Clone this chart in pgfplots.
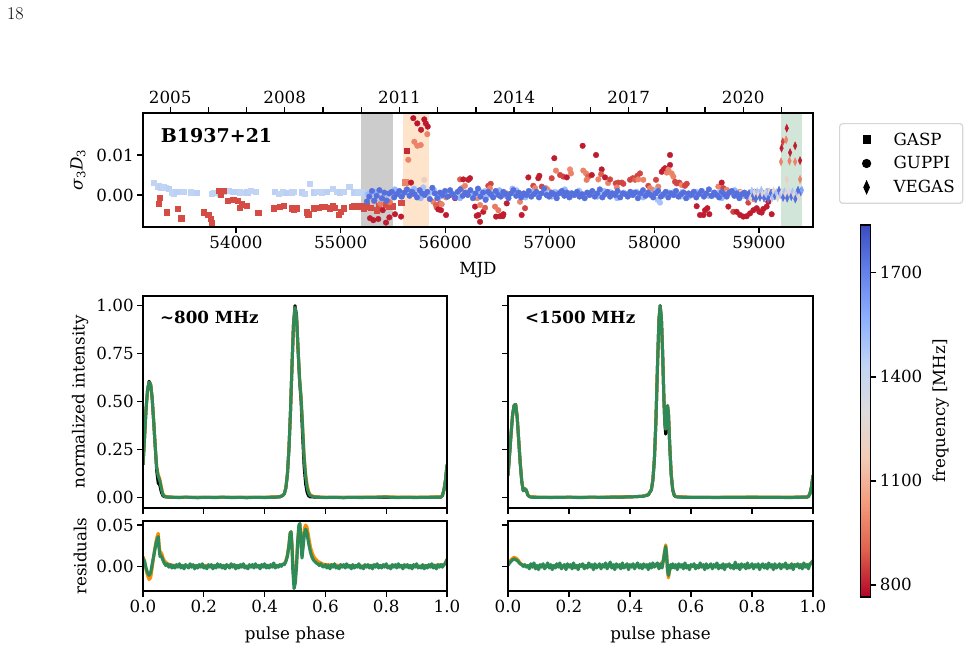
\documentclass[border=0pt]{standalone}
\usepackage{fontspec}
\usepackage{pgfplots}
\pgfplotsset{compat=1.18}
\usetikzlibrary{calc}
\newfontfamily\dejavu{DejaVu Serif}
\newcommand\mplfont{\dejavu\fontsize{16.7}{20}\selectfont}
\newcommand\mplbold{\dejavu\bfseries\fontsize{16.7}{20}\selectfont}
\definecolor{bandgray}{RGB}{204,204,204}
\definecolor{bandorange}{RGB}{254,228,202}
\definecolor{bandgreen}{RGB}{210,229,217}
\definecolor{seagreen}{RGB}{46,139,87}
\definecolor{darkorange}{RGB}{255,140,0}
\definecolor{legendedge}{RGB}{214,214,214}
\pgfkeys{/pgf/number format/.cd, 1000 sep={}, assume math mode=true}
\pgfplotsset{
  colormap={coolwarmr}{rgb255(0cm)=(180,4,38); rgb255(1cm)=(222,96,77); rgb255(2cm)=(244,154,123); rgb255(3cm)=(242,203,183); rgb255(4cm)=(221,220,220); rgb255(5cm)=(192,212,245); rgb255(6cm)=(141,176,254); rgb255(7cm)=(98,130,234); rgb255(8cm)=(59,76,192)},
  mpl/.style={
    scale only axis, axis on top,
    font=\mplfont,
    axis line style={line width=1.3pt},
    tick style={black, line width=1.3pt},
    tick align=outside, major tick length=5.8pt,
    xtick pos=left, ytick pos=left,
    scaled ticks=false,
  },
  sc/.style={scatter, only marks, point meta=explicit, forget plot,
    scatter/use mapped color={draw=mapped color, fill=mapped color}},
  gasp/.style={sc, mark=square*, mark size=2.6pt},
  guppi/.style={sc, mark=*, mark size=2.8pt},
  vegas/.style={sc, mark=diamond*, mark size=4pt, mark options={xscale=0.6}},
  prof/.style={line width=3pt, line join=round},
  resid/.style={line width=3.2pt, line join=round},
  prof2/.style={
    mpl, width=304pt, height=212pt, xmin=0, xmax=1, ymin=-0.055, ymax=1.05,
    xtick={0,0.2,0.4,0.6,0.8,1}, xticklabels={},
    ytick={0,0.25,0.5,0.75,1},
    yticklabel style={/pgf/number format/.cd, fixed, fixed zerofill, precision=2},
  },
  res2/.style={
    mpl, width=304pt, height=70pt, xmin=0, xmax=1, ymin=-0.030, ymax=0.055,
    xtick={0,0.2,0.4,0.6,0.8,1}, ytick={0,0.05},
    xticklabel style={/pgf/number format/.cd, fixed, fixed zerofill, precision=1},
    yticklabel style={/pgf/number format/.cd, fixed, fixed zerofill, precision=2},
    xlabel={pulse phase},
    xlabel style={at={(axis description cs:0.5,-0.62)}, anchor=center},
  },
}

\begin{document}
\begin{tikzpicture}[x=1pt,y=1pt]
\useasboundingbox (0,0) rectangle (971,-650);
\node[anchor=north west, inner sep=0pt, font=\fontsize{18}{20}\selectfont] at (7,-7) {18};

% ---------------- timing residual panel ----------------
\begin{axis}[mpl, at={(143pt,-227pt)}, anchor=south west, width=670pt, height=114pt,
  xmin=53111, xmax=59516, ymin=-0.008, ymax=0.0205,
  xtick={54000,55000,56000,57000,58000,59000}, ytick={0,0.01},
  yticklabel style={/pgf/number format/.cd, fixed, fixed zerofill, precision=2},
  xlabel={MJD},
  xlabel style={at={(axis description cs:0.5,-0.377)}, anchor=center},
  ylabel={{\itshape σ\textsubscript{\upshape 3}D\textsubscript{\upshape 3}}},
  ylabel style={at={(axis description cs:-0.097,0.5)}, anchor=center},
  colormap name=coolwarmr, point meta min=765, point meta max=1838,
  colorbar,
  colorbar style={
    at={($(parent axis.south east)+(39pt,-370pt)$)}, anchor=south west,
    width=10pt, height=372pt, scale only axis,
    font=\mplfont,
    axis line style={line width=1.3pt},
    tick style={black, line width=1.3pt},
    tick align=outside, major tick length=5.8pt,
    ytick={800,1100,1400,1700}, yticklabel pos=right, ytick pos=right,
    xtick=\empty,
    ylabel={frequency [MHz]},
    ylabel style={at={(axis description cs:8.0,0.5)}, anchor=center},
  },
  legend cell align=left,
  legend style={at={(1.0388,0.912)}, anchor=north west, draw=legendedge,
    line width=1.2pt, rounded corners=3pt, fill=white, font=\mplfont,
    inner xsep=6pt, inner ysep=7pt, nodes={inner sep=2pt}, row sep=6pt},
  legend image code/.code={\path[draw=none, fill=none] (0pt,-5pt) rectangle (46pt,5pt);
    \draw[#1] plot coordinates {(21pt,0pt)};},
]
% observing campaigns
\addplot[fill=bandgray, draw=none, forget plot] coordinates {(55195,-0.01) (55501,-0.01) (55501,0.03) (55195,0.03)} -- cycle;
\addplot[fill=bandorange, draw=none, forget plot] coordinates {(55597,-0.01) (55845,-0.01) (55845,0.03) (55597,0.03)} -- cycle;
\addplot[fill=bandgreen, draw=none, forget plot] coordinates {(59210,-0.01) (59412,-0.01) (59412,0.03) (59210,0.03)} -- cycle;

% GASP, L band
\addplot[gasp] table[header=false, x index=0, y index=1, meta index=2, row sep=\\] {
53210 0.0031 1430\\ 53257 0.0022 1430\\ 53280 0.0019 1450\\ 53305 0.0021 1430\\ 53331 0.0018 1430\\
53353 0.0016 1450\\ 53385 0.0007 1430\\ 53401 0.0003 1430\\ 53433 0.0009 1450\\ 53496 0.0009 1430\\
53570 0.0007 1430\\ 53624 0.0006 1450\\ 53768 0.0003 1430\\ 53790 0.0005 1430\\ 53841 0.0003 1450\\
53879 0.0009 1430\\ 53927 0.0011 1430\\ 53974 0.0009 1450\\ 54032 0.0007 1430\\ 54069 0.0005 1430\\
54108 0.0007 1450\\ 54140 0.0010 1430\\ 54185 0.0009 1430\\ 54373 0.0009 1450\\ 54405 0.0003 1430\\
54447 0.0007 1430\\ 54485 0.0005 1450\\ 54533 0.0007 1430\\ 54555 0.0009 1430\\ 54628 0.0007 1450\\
54660 0.0003 1430\\ 54708 0.0028 1430\\ 54739 0.0007 1450\\ 54772 0.0009 1430\\ 54819 0.0007 1430\\
54867 0.0009 1450\\ 54925 0.0015 1430\\ 54963 0.0009 1430\\ 54994 0.0007 1450\\ 55026 0.0009 1430\\
55083 0.0020 1430\\ 55122 0.0007 1450\\ 55169 0.0007 1430\\ 55205 0.0009 1430\\ 55232 0.0004 1450\\
};
% GASP, 800 MHz
\addplot[gasp] table[header=false, x index=0, y index=1, meta index=2, row sep=\\] {
53274 -0.0006 870\\ 53264 -0.0022 870\\ 53338 -0.0043 870\\ 53439 -0.0034 870\\ 53477 -0.0058 870\\
53688 -0.0043 870\\ 53735 -0.0050 870\\ 53758 -0.0060 870\\ 53764 -0.0069 870\\ 53835 0.0010 870\\
53854 0.0002 870\\ 53885 0.0010 870\\ 53917 -0.0015 870\\ 53974 -0.0011 870\\ 54013 -0.0014 870\\
54032 -0.0031 870\\ 54057 -0.0023 870\\ 54102 -0.0026 870\\ 54213 -0.0044 870\\ 54357 -0.0033 870\\
54414 -0.0030 870\\ 54459 -0.0027 870\\ 54533 -0.0033 870\\ 54553 -0.0036 870\\ 54578 -0.0033 870\\
54676 -0.0043 870\\ 54691 -0.0048 870\\ 54739 -0.0033 870\\ 54787 -0.0032 870\\ 54819 -0.0029 870\\
54851 -0.0029 870\\ 54899 -0.0033 870\\ 54925 -0.0026 870\\ 54947 -0.0031 870\\ 54978 -0.0050 870\\
55001 -0.0042 870\\ 55033 -0.0033 870\\ 55106 -0.0029 870\\ 55122 -0.0028 870\\ 55169 -0.0028 870\\
55192 -0.0028 870\\ 55217 -0.0033 870\\ 55250 -0.0028 870\\ 55291 -0.0032 870\\ 55345 -0.0038 870\\
55364 -0.0028 870\\ 55434 -0.0025 870\\ 55460 -0.0029 870\\ 55498 -0.0028 870\\ 55580 -0.0019 870\\
55617 0.0032 980\\ 55632 0.0110 820\\
};
% GUPPI, 820 MHz
\addplot[guppi] table[header=false, x index=0, y index=1, meta index=2, row sep=\\] {
55281 -0.0058 800\\ 55313 -0.0063 800\\ 55360 -0.0060 800\\ 55403 -0.0038 800\\ 55434 -0.0069 800\\
55466 -0.0056 800\\ 55520 -0.0048 800\\ 55578 -0.0054 800\\ 55320 -0.0015 960\\ 55380 -0.0022 960\\
55420 -0.0012 900\\ 55470 -0.0018 960\\
55695 0.0192 790\\ 55733 0.0179 790\\ 55769 0.0163 800\\ 55800 0.0189 790\\ 55814 0.0179 800\\
55833 0.0171 790\\ 55829 0.0152 980\\ 55705 0.0133 980\\ 55733 0.0123 980\\ 55766 0.0125 980\\
55647 0.0088 980\\ 55673 0.0031 800\\ 55800 0.0038 1200\\ 55880 0.0013 800\\ 55918 -0.0031 900\\
55960 -0.0038 800\\ 56008 -0.0050 800\\ 55950 -0.0021 900\\
55886 -0.0017 980\\ 55912 -0.0025 900\\ 55934 -0.0036 800\\ 55967 -0.0023 980\\ 56008 -0.0006 980\\
56046 0.0000 800\\ 56094 -0.0008 800\\ 56142 0.0039 900\\ 56173 0.0039 800\\ 56221 0.0038 800\\
56237 0.0042 800\\ 56189 0.0023 980\\ 56158 0.0017 980\\ 56285 -0.0029 800\\ 56317 -0.0050 800\\
56301 -0.0052 800\\ 56333 -0.0067 800\\ 56364 -0.0042 800\\ 56381 -0.0032 900\\ 56333 -0.0025 980\\
56307 -0.0008 1000\\ 56412 0.0023 860\\ 56435 0.0028 860\\ 56428 0.0017 980\\ 56476 -0.0029 960\\
56508 -0.0038 960\\ 56486 -0.0054 800\\ 56524 -0.0053 800\\ 56550 -0.0053 800\\ 56556 -0.0048 800\\
56588 -0.0021 800\\ 56588 0.0004 980\\ 56731 -0.0050 800\\ 56763 -0.0033 860\\ 56715 -0.0017 980\\
56795 0.0044 800\\ 56842 0.0023 860\\ 56859 0.0017 980\\ 56890 0.0042 800\\ 56900 0.0048 800\\
56923 0.0021 860\\ 56964 0.0017 980\\ 56980 0.0013 980\\ 57018 0.0042 860\\ 57043 0.0092 800\\
57059 0.0061 980\\ 57098 0.0050 860\\ 57129 0.0046 860\\ 57162 0.0044 800\\ 57193 0.0064 1000\\
57203 0.0054 980\\ 57314 0.0123 800\\ 57320 0.0061 980\\ 57346 0.0054 980\\ 57368 0.0046 900\\
57352 0.0038 960\\ 57401 0.0050 800\\ 57442 0.0100 800\\ 57464 0.0039 980\\ 57496 0.0064 800\\
57490 0.0052 900\\ 57528 0.0044 800\\ 57557 0.0030 980\\ 57576 0.0039 860\\ 57630 0.0029 860\\
57655 0.0031 860\\ 57688 0.0031 860\\ 57703 0.0028 860\\ 57640 0.0019 980\\ 57767 0.0038 860\\
57793 0.0042 860\\ 57815 0.0038 900\\ 57837 0.0048 860\\ 57862 0.0054 860\\ 57846 0.0039 980\\
57894 0.0038 980\\ 57942 0.0023 860\\ 57958 0.0017 980\\ 57984 0.0013 980\\ 58015 0.0038 860\\
58037 0.0021 980\\ 58070 0.0058 800\\ 58086 0.0063 800\\ 58118 0.0056 980\\ 58102 0.0067 800\\
58149 0.0100 800\\ 58149 0.0075 800\\ 58133 0.0063 980\\ 58165 0.0054 980\\ 58181 0.0046 980\\
58197 0.0033 860\\ 58213 0.0029 860\\ 58238 0.0031 860\\ 58261 0.0025 980\\ 58292 0.0023 860\\
58309 0.0028 860\\ 58404 -0.0028 800\\ 58436 -0.0050 800\\ 58468 -0.0050 800\\ 58484 -0.0038 800\\
58506 -0.0033 800\\ 58525 -0.0048 800\\ 58611 0.0021 980\\ 58643 0.0031 800\\ 58659 0.0017 860\\
58691 0.0013 980\\ 58716 0.0008 980\\ 58754 0.0004 980\\ 58786 0.0000 980\\ 58819 0.0008 980\\
58707 -0.0029 800\\ 58754 -0.0042 860\\ 58786 -0.0042 800\\ 58819 -0.0050 800\\ 58850 -0.0054 800\\
58882 -0.0053 800\\ 58914 -0.0046 800\\ 58946 -0.0038 800\\ 58978 -0.0033 800\\ 58898 -0.0019 860\\
58955 -0.0011 980\\ 59003 -0.0042 800\\ 59025 -0.0044 800\\ 59041 -0.0035 800\\ 59073 -0.0029 800\\
59089 -0.0017 800\\ 59121 -0.0048 800\\
};
% GUPPI, 1500 MHz
\addplot[guppi] table[header=false, x index=0, y index=1, meta index=2, row sep=\\] {
55290 0.0003 1500\\ 55360 0.0008 1500\\ 55430 0.0001 1500\\ 55505 0.0005 1500\\ 55570 -0.0001 1500\\
55660 0.0010 1500\\ 55745 0.0003 1500\\ 55790 0.0019 1500\\ 55860 0.0006 1500\\ 55930 0.0000 1500\\
56000 0.0009 1500\\ 56070 0.0004 1500\\ 56150 -0.0002 1500\\ 56230 0.0007 1500\\ 56300 0.0002 1500\\
56380 0.0010 1500\\ 56450 -0.0004 1500\\ 56530 0.0005 1500\\ 56610 0.0001 1500\\ 56680 0.0012 1500\\
56760 -0.0003 1500\\ 56830 0.0006 1500\\ 56910 0.0003 1500\\ 56980 -0.0001 1500\\ 57050 0.0008 1500\\
57130 0.0002 1500\\ 57200 0.0005 1500\\ 57280 0.0011 1500\\ 57350 -0.0002 1500\\ 57430 0.0004 1500\\
57500 0.0001 1500\\ 57580 0.0007 1500\\ 57650 -0.0003 1500\\ 57730 0.0003 1500\\ 57800 0.0006 1500\\
57880 0.0000 1500\\ 57950 0.0004 1500\\ 58030 -0.0012 1500\\ 58054 -0.0019 1500\\ 58100 0.0002 1500\\
58180 0.0007 1500\\ 58250 -0.0004 1500\\ 58320 0.0003 1500\\ 58400 0.0008 1500\\ 58470 0.0001 1500\\
58550 -0.0003 1500\\ 58620 0.0006 1500\\ 58700 0.0002 1500\\ 58770 0.0009 1500\\ 58850 -0.0002 1500\\
58920 0.0004 1500\\ 59000 0.0007 1500\\ 59070 -0.0001 1500\\ 59140 0.0003 1500\\
56150 0.0004 1250\\ 57000 0.0005 1250\\ 57300 0.0003 1250\\ 58700 0.0005 1250\\ 58760 0.0002 1250\\
58830 0.0006 1250\\ 58880 -0.0003 1250\\ 58960 0.0004 1250\\ 59020 0.0001 1250\\ 59100 0.0003 1250\\
};
% GUPPI, upper band
\addplot[guppi] table[header=false, x index=0, y index=1, meta index=2, row sep=\\] {
55262 0.0002 1540\\ 55330 0.0008 1540\\ 55392 -0.0010 1540\\ 55455 0.0002 1540\\ 55518 0.0014 1540\\
55580 -0.0004 1540\\ 55640 0.0006 1540\\ 55702 0.0016 1540\\ 55765 -0.0008 1540\\ 55830 0.0004 1540\\
55893 0.0012 1540\\ 55955 -0.0004 1540\\ 56018 0.0008 1540\\ 56080 0.0000 1540\\ 56142 -0.0008 1540\\
56205 0.0006 1540\\ 56268 0.0002 1540\\ 56330 0.0010 1540\\ 56393 -0.0006 1540\\ 56456 0.0004 1540\\
56518 0.0012 1540\\ 56581 -0.0002 1540\\ 56643 0.0016 1540\\ 56706 0.0004 1540\\ 56768 -0.0006 1540\\
56831 0.0008 1540\\ 56893 0.0002 1540\\ 56956 0.0010 1540\\ 57018 -0.0004 1540\\ 57081 0.0006 1540\\
57143 0.0014 1540\\ 57206 -0.0002 1540\\ 57268 0.0008 1540\\ 57331 0.0000 1540\\ 57393 0.0006 1540\\
57456 -0.0004 1540\\ 57518 0.0010 1540\\ 57581 0.0002 1540\\ 57643 -0.0008 1540\\ 57706 0.0006 1540\\
57768 0.0000 1540\\ 57831 0.0008 1540\\ 57893 -0.0006 1540\\ 57956 0.0004 1540\\ 58018 0.0012 1540\\
58081 -0.0002 1540\\ 58143 0.0006 1540\\ 58206 0.0000 1540\\ 58268 0.0008 1540\\ 58331 -0.0004 1540\\
58393 0.0004 1540\\ 58456 0.0010 1540\\ 58518 -0.0002 1540\\ 58581 0.0006 1540\\ 58643 -0.0008 1540\\
58706 0.0004 1540\\ 58768 0.0012 1540\\ 58831 0.0000 1540\\ 58893 -0.0006 1540\\ 58956 0.0008 1540\\
59018 0.0002 1540\\ 59081 0.0010 1540\\ 59143 -0.0004 1540\\
55252 -0.0016 1750\\ 55275 -0.0004 1750\\ 55300 0.0010 1750\\ 55322 -0.0014 1750\\ 55345 -0.0002 1750\\
55371 0.0012 1750\\ 55396 -0.0008 1750\\ 55418 0.0006 1750\\ 55441 -0.0014 1750\\ 55465 0.0004 1750\\
55490 0.0008 1750\\ 55512 -0.0006 1750\\ 55537 0.0002 1750\\ 55561 0.0010 1750\\ 55585 -0.0004 1750\\
55610 0.0006 1750\\ 55634 0.0014 1750\\ 55659 -0.0002 1750\\ 55683 0.0008 1750\\ 55706 0.0002 1750\\
55731 -0.0006 1750\\ 55756 0.0012 1750\\ 55780 0.0004 1750\\ 55803 0.0000 1750\\ 55828 0.0008 1750\\
55853 -0.0010 1750\\ 55877 0.0018 1750\\ 55900 0.0004 1750\\ 55925 -0.0008 1750\\ 55950 0.0006 1750\\
55973 0.0000 1750\\ 55998 0.0010 1750\\ 56022 -0.0004 1750\\ 56047 0.0012 1750\\ 56070 0.0002 1750\\
56095 -0.0006 1750\\ 56119 0.0008 1750\\ 56144 0.0014 1750\\ 56167 -0.0002 1750\\ 56192 0.0006 1750\\
56216 0.0000 1750\\ 56241 0.0012 1750\\ 56265 -0.0008 1750\\ 56289 0.0004 1750\\ 56313 0.0016 1750\\
56338 -0.0004 1750\\ 56362 0.0006 1750\\ 56386 -0.0012 1750\\ 56410 0.0008 1750\\ 56435 0.0002 1750\\
56459 -0.0006 1750\\ 56483 0.0010 1750\\ 56508 0.0000 1750\\ 56532 -0.0004 1750\\ 56556 0.0008 1750\\
56580 0.0002 1750\\ 56605 -0.0008 1750\\ 56629 0.0004 1750\\ 56653 0.0012 1750\\ 56678 -0.0002 1750\\
56702 0.0006 1750\\ 56726 -0.0006 1750\\ 56750 0.0004 1750\\ 56775 0.0000 1750\\ 56799 0.0010 1750\\
56823 -0.0004 1750\\ 56848 0.0002 1750\\ 56872 0.0008 1750\\ 56896 -0.0006 1750\\ 56920 0.0004 1750\\
56945 0.0016 1750\\ 56969 0.0000 1750\\ 56993 -0.0004 1750\\ 57017 0.0006 1750\\ 57042 0.0002 1750\\
57066 -0.0008 1750\\ 57090 0.0004 1750\\ 57115 0.0010 1750\\ 57139 -0.0002 1750\\ 57163 0.0006 1750\\
57187 -0.0006 1750\\ 57212 0.0004 1750\\ 57236 0.0000 1750\\ 57260 0.0008 1750\\ 57284 -0.0004 1750\\
57309 0.0002 1750\\ 57333 -0.0008 1750\\ 57357 0.0006 1750\\ 57381 0.0000 1750\\ 57406 0.0010 1750\\
57430 -0.0004 1750\\ 57454 0.0004 1750\\ 57478 0.0014 1750\\ 57503 -0.0006 1750\\ 57527 0.0002 1750\\
57551 0.0008 1750\\ 57576 -0.0004 1750\\ 57600 0.0004 1750\\ 57624 0.0000 1750\\ 57648 0.0010 1750\\
57673 -0.0006 1750\\ 57697 0.0004 1750\\ 57721 0.0002 1750\\ 57745 -0.0004 1750\\ 57770 0.0008 1750\\
57794 0.0000 1750\\ 57818 0.0006 1750\\ 57842 -0.0008 1750\\ 57867 0.0004 1750\\ 57891 0.0012 1750\\
57915 -0.0002 1750\\ 57939 0.0006 1750\\ 57964 0.0000 1750\\ 57988 -0.0006 1750\\ 58012 0.0004 1750\\
58036 0.0010 1750\\ 58061 -0.0004 1750\\ 58085 0.0002 1750\\ 58109 0.0008 1750\\ 58133 -0.0006 1750\\
58158 0.0004 1750\\ 58182 0.0000 1750\\ 58206 0.0010 1750\\ 58230 -0.0004 1750\\ 58255 0.0002 1750\\
58279 0.0006 1750\\ 58303 -0.0008 1750\\ 58327 0.0004 1750\\ 58352 0.0000 1750\\ 58376 0.0008 1750\\
58400 -0.0006 1750\\ 58424 0.0002 1750\\ 58449 0.0010 1750\\ 58473 -0.0004 1750\\ 58497 0.0004 1750\\
58521 0.0014 1750\\ 58546 -0.0002 1750\\ 58570 0.0006 1750\\ 58594 0.0000 1750\\ 58618 -0.0006 1750\\
58643 0.0008 1750\\ 58667 0.0002 1750\\ 58691 -0.0004 1750\\ 58715 0.0006 1750\\ 58740 0.0010 1750\\
58764 -0.0002 1750\\ 58788 0.0004 1750\\ 58812 -0.0008 1750\\ 58837 0.0002 1750\\ 58861 0.0006 1750\\
58885 -0.0004 1750\\ 58909 0.0004 1750\\ 58934 -0.0006 1750\\ 58958 0.0008 1750\\ 58982 0.0000 1750\\
59006 -0.0004 1750\\ 59031 0.0006 1750\\ 59055 0.0002 1750\\ 59079 -0.0006 1750\\ 59103 0.0004 1750\\
59128 0.0008 1750\\ 59152 -0.0002 1750\\ 59176 0.0004 1750\\
};
% VEGAS
\addplot[vegas] table[header=false, x index=0, y index=1, meta index=2, row sep=\\] {
58905 0.0004 1750\\ 58918 -0.0008 1250\\ 58931 0.0010 1500\\ 58944 -0.0002 1750\\ 58957 0.0006 1250\\
58970 -0.0010 1750\\ 58983 0.0008 1500\\ 58996 0.0000 1250\\ 59009 -0.0006 1750\\ 59022 0.0012 1500\\
59035 0.0002 1250\\ 59048 -0.0008 1750\\ 59061 0.0006 1250\\ 59074 0.0000 1500\\ 59087 -0.0010 1750\\
59100 0.0008 1250\\ 59113 0.0004 1750\\ 59126 -0.0006 1500\\ 59139 0.0010 1250\\ 59152 -0.0002 1750\\
59165 0.0006 1500\\ 59178 -0.0008 1250\\ 59191 0.0012 1750\\ 59204 0.0000 1500\\ 59217 0.0006 1250\\
59230 -0.0006 1750\\ 59243 0.0008 1500\\ 59256 0.0002 1250\\ 59269 -0.0008 1750\\ 59282 0.0010 1500\\
59295 0.0004 1250\\ 59308 -0.0004 1750\\ 59321 0.0008 1500\\ 59334 0.0000 1250\\ 59347 -0.0010 1750\\
59360 0.0006 1500\\ 59373 0.0012 1750\\ 59386 -0.0004 1250\\ 59399 0.0008 1750\\ 59410 0.0012 1600\\
59275 0.0016 1300\\
59215 0.0117 800\\ 59227 0.0133 860\\ 59259 0.0138 980\\ 59265 0.0167 800\\ 59297 0.0106 800\\
59291 0.0085 980\\ 59345 0.0123 800\\ 59345 0.0083 980\\ 59392 0.0086 800\\ 59210 0.0083 980\\
59392 0.0039 980\\ 59265 0.0039 1200\\
};
\node[anchor=west, inner sep=0pt, font=\dejavu\bfseries\fontsize{19}{22}\selectfont] at (rel axis cs:0.0264,0.798) {B1937+21};
\addlegendimage{only marks, mark=square*, black, mark size=3.5pt}
\addlegendentry{GASP}
\addlegendimage{only marks, mark=*, black, mark size=4pt}
\addlegendentry{GUPPI}
\addlegendimage{only marks, mark=diamond*, black, mark size=6pt, mark options={xscale=0.6}}
\addlegendentry{VEGAS}
\end{axis}

% calendar years along the top edge
\begin{axis}[mpl, at={(143pt,-227pt)}, anchor=south west, width=670pt, height=114pt,
  xmin=53111, xmax=59516, ymin=0, ymax=1,
  axis x line*=top, axis y line=none, xtick pos=right,
  xtick={53371,53736,54101,54466,54832,55197,55562,55927,56293,56658,57023,57388,57754,58119,58484,58849,59215},
  xticklabels={2005,,,2008,,,2011,,,2014,,,2017,,,2020,},
  ytick=\empty,
]
\addplot[draw=none, forget plot] coordinates {(54000,0.5)};
\end{axis}

% ---------------- ~800 MHz profiles ----------------
\begin{axis}[prof2, at={(143pt,-508pt)}, anchor=south west,
  ylabel={normalized intensity},
  ylabel style={at={(axis description cs:-0.207,0.5)}, anchor=center}]
\addplot[prof, black] coordinates {(0.000,0.170) (0.005,0.310) (0.010,0.460) (0.015,0.560) (0.020,0.605) (0.025,0.590) (0.030,0.520) (0.035,0.400) (0.040,0.270) (0.045,0.140) (0.050,0.075) (0.055,0.065) (0.060,0.030) (0.065,0.010) (0.070,0.004) (0.100,0.000) (0.200,0.000) (0.300,0.000) (0.400,0.000) (0.450,0.003) (0.460,0.010) (0.465,0.020) (0.470,0.050) (0.475,0.120) (0.480,0.250) (0.485,0.440) (0.490,0.680) (0.495,0.900) (0.500,1.000) (0.505,0.950) (0.510,0.770) (0.515,0.610) (0.520,0.500) (0.525,0.320) (0.530,0.160) (0.535,0.070) (0.540,0.025) (0.545,0.008) (0.550,0.003) (0.600,0.000) (0.700,0.000) (0.800,0.001) (0.900,0.000) (0.980,0.002) (0.985,0.010) (0.990,0.040) (0.995,0.090) (1.000,0.170)};
\addplot[prof, darkorange] coordinates {(0.000,0.170) (0.005,0.310) (0.010,0.460) (0.015,0.560) (0.020,0.600) (0.025,0.590) (0.030,0.520) (0.035,0.400) (0.040,0.270) (0.045,0.160) (0.050,0.120) (0.055,0.100) (0.060,0.060) (0.065,0.022) (0.070,0.009) (0.080,0.003) (0.100,0.001) (0.200,0.001) (0.300,0.000) (0.400,0.001) (0.450,0.004) (0.460,0.011) (0.465,0.021) (0.470,0.052) (0.475,0.122) (0.480,0.250) (0.485,0.440) (0.490,0.680) (0.495,0.900) (0.500,0.985) (0.505,0.935) (0.510,0.780) (0.515,0.625) (0.520,0.525) (0.525,0.380) (0.530,0.220) (0.535,0.125) (0.540,0.065) (0.545,0.032) (0.550,0.015) (0.560,0.006) (0.580,0.002) (0.600,0.001) (0.700,0.001) (0.800,0.003) (0.900,0.001) (0.980,0.003) (0.985,0.011) (0.990,0.041) (0.995,0.090) (1.000,0.170)};
\addplot[prof, seagreen] coordinates {(0.000,0.170) (0.005,0.310) (0.010,0.460) (0.015,0.560) (0.020,0.600) (0.025,0.590) (0.030,0.520) (0.035,0.400) (0.040,0.270) (0.045,0.160) (0.050,0.110) (0.055,0.090) (0.060,0.050) (0.065,0.016) (0.070,0.006) (0.080,0.002) (0.100,0.001) (0.120,-0.001) (0.140,0.002) (0.160,0.000) (0.180,-0.002) (0.200,0.001) (0.220,0.000) (0.240,-0.001) (0.260,0.002) (0.280,0.000) (0.300,-0.001) (0.320,0.001) (0.340,-0.002) (0.360,0.000) (0.380,0.001) (0.400,-0.001) (0.420,0.001) (0.440,0.002) (0.450,0.004) (0.460,0.010) (0.465,0.020) (0.470,0.050) (0.475,0.120) (0.480,0.250) (0.485,0.440) (0.490,0.680) (0.495,0.900) (0.500,0.990) (0.505,0.940) (0.510,0.780) (0.515,0.620) (0.520,0.520) (0.525,0.370) (0.530,0.210) (0.535,0.110) (0.540,0.050) (0.545,0.022) (0.550,0.010) (0.560,0.004) (0.580,0.001) (0.600,-0.001) (0.620,0.001) (0.640,0.000) (0.660,-0.002) (0.680,0.001) (0.700,0.000) (0.720,-0.001) (0.740,0.001) (0.760,0.000) (0.780,0.002) (0.800,0.003) (0.820,0.000) (0.840,-0.001) (0.860,0.001) (0.880,0.000) (0.900,-0.001) (0.920,0.001) (0.940,0.000) (0.960,0.001) (0.980,0.002) (0.985,0.010) (0.990,0.040) (0.995,0.090) (1.000,0.170)};
\node[anchor=west, inner sep=0pt, font=\mplbold] at (rel axis cs:0.056,0.901) {\textasciitilde 800 MHz};
\end{axis}

\begin{axis}[res2, at={(143pt,-591pt)}, anchor=south west,
  ylabel={residuals},
  ylabel style={at={(axis description cs:-0.207,0.5)}, anchor=center}]
\addplot[resid, darkorange] coordinates {(0.000,0.012) (0.005,0.006) (0.010,-0.004) (0.015,-0.011) (0.020,-0.016) (0.025,-0.014) (0.030,-0.002) (0.035,0.012) (0.040,0.024) (0.045,0.034) (0.050,0.040) (0.053,0.026) (0.056,0.016) (0.059,0.017) (0.062,0.015) (0.066,0.010) (0.070,0.007) (0.075,0.005) (0.080,0.003) (0.100,0.001) (0.150,0.000) (0.200,0.001) (0.250,0.000) (0.300,0.001) (0.350,0.000) (0.400,0.001) (0.450,0.001) (0.465,0.003) (0.470,0.007) (0.475,0.014) (0.480,0.026) (0.484,0.040) (0.487,0.042) (0.490,0.027) (0.493,0.000) (0.497,-0.020) (0.501,-0.012) (0.505,0.005) (0.509,0.032) (0.513,0.049) (0.516,0.050) (0.519,0.036) (0.523,0.014) (0.527,0.030) (0.531,0.046) (0.535,0.050) (0.539,0.048) (0.543,0.040) (0.547,0.031) (0.551,0.023) (0.555,0.018) (0.560,0.013) (0.565,0.010) (0.570,0.008) (0.575,0.006) (0.580,0.005) (0.590,0.003) (0.600,0.002) (0.650,0.001) (0.700,0.000) (0.750,0.001) (0.800,0.000) (0.850,0.001) (0.900,0.000) (0.950,0.001) (0.990,0.002) (0.995,0.004) (1.000,0.009)};
\addplot[resid, seagreen] coordinates {(0.000,0.010) (0.005,0.006) (0.010,-0.002) (0.015,-0.008) (0.020,-0.011) (0.025,-0.008) (0.030,0.002) (0.035,0.012) (0.040,0.022) (0.045,0.031) (0.050,0.036) (0.053,0.022) (0.056,0.012) (0.059,0.013) (0.062,0.011) (0.066,0.007) (0.070,0.004) (0.075,0.001) (0.080,0.003) (0.085,-0.001) (0.090,0.002) (0.095,-0.002) (0.100,0.001)
(0.105,-0.002) (0.110,0.002) (0.115,-0.001) (0.120,0.003) (0.125,-0.002) (0.130,0.001) (0.135,-0.003) (0.140,0.002) (0.145,0.000) (0.150,-0.002) (0.155,0.003) (0.160,-0.001) (0.165,0.002) (0.170,-0.003) (0.175,0.001) (0.180,-0.002) (0.185,0.002) (0.190,-0.001) (0.195,0.003) (0.200,-0.002) (0.205,0.000) (0.210,-0.003) (0.215,0.002) (0.220,-0.001) (0.225,0.002) (0.230,-0.003) (0.235,0.001) (0.240,-0.002) (0.245,0.003) (0.250,-0.001) (0.255,0.002) (0.260,-0.002) (0.265,0.001) (0.270,-0.003) (0.275,0.002) (0.280,0.000) (0.285,-0.002) (0.290,0.003) (0.295,-0.001) (0.300,0.002) (0.305,-0.003) (0.310,0.001) (0.315,-0.002) (0.320,0.002) (0.325,-0.001) (0.330,0.003) (0.335,-0.002) (0.340,0.000) (0.345,-0.003) (0.350,0.002) (0.355,-0.001) (0.360,0.002) (0.365,-0.002) (0.370,0.003) (0.375,-0.001) (0.380,0.001) (0.385,-0.003) (0.390,0.002) (0.395,-0.001) (0.400,0.003) (0.405,-0.002) (0.410,0.001) (0.415,-0.002) (0.420,0.002) (0.425,-0.001) (0.430,0.004) (0.435,-0.002) (0.440,0.001) (0.445,-0.001) (0.450,0.002) (0.455,0.000) (0.460,0.003) (0.465,0.002)
(0.470,0.006) (0.475,0.012) (0.480,0.025) (0.484,0.040) (0.487,0.042) (0.490,0.025) (0.493,-0.005) (0.497,-0.027) (0.501,-0.020) (0.505,0.000) (0.509,0.030) (0.513,0.050) (0.516,0.052) (0.519,0.035) (0.523,0.010) (0.527,0.025) (0.531,0.040) (0.535,0.045) (0.539,0.042) (0.543,0.032) (0.547,0.024) (0.551,0.017) (0.555,0.012) (0.560,0.008) (0.565,0.006) (0.570,0.004) (0.575,0.003) (0.580,0.001) (0.585,0.003) (0.590,0.000)
(0.595,-0.001) (0.600,0.002) (0.605,-0.002) (0.610,0.001) (0.615,-0.003) (0.620,0.002) (0.625,-0.001) (0.630,0.003) (0.635,-0.002) (0.640,0.000) (0.645,-0.003) (0.650,0.002) (0.655,-0.001) (0.660,0.002) (0.665,-0.002) (0.670,0.003) (0.675,-0.001) (0.680,0.001) (0.685,-0.003) (0.690,0.002) (0.695,-0.002) (0.700,0.001) (0.705,-0.001) (0.710,0.003) (0.715,-0.002) (0.720,0.000) (0.725,-0.003) (0.730,0.002) (0.735,-0.001) (0.740,0.002) (0.745,-0.002) (0.750,0.001) (0.755,-0.003) (0.760,0.002) (0.765,-0.001) (0.770,0.003) (0.775,-0.002) (0.780,0.001) (0.785,-0.002) (0.790,0.002) (0.795,-0.001) (0.800,0.003) (0.805,-0.002) (0.810,0.000) (0.815,-0.003) (0.820,0.002) (0.825,-0.001) (0.830,0.002) (0.835,-0.002) (0.840,0.003) (0.845,-0.001) (0.850,0.001) (0.855,-0.003) (0.860,0.002) (0.865,-0.001) (0.870,0.002) (0.875,-0.002) (0.880,0.001) (0.885,-0.003) (0.890,0.002) (0.895,-0.001) (0.900,0.003) (0.905,-0.002) (0.910,0.000) (0.915,-0.002) (0.920,0.002) (0.925,-0.003) (0.930,0.001) (0.935,-0.002) (0.940,0.002) (0.945,-0.001) (0.950,0.003) (0.955,-0.002) (0.960,0.001) (0.965,-0.003) (0.970,0.002) (0.975,-0.001) (0.980,0.002) (0.985,-0.001) (0.990,0.002) (0.995,0.004) (1.000,0.008)};
\end{axis}

% ---------------- <1500 MHz profiles ----------------
\begin{axis}[prof2, at={(508pt,-508pt)}, anchor=south west, width=305pt, yticklabels={}]
\addplot[prof, black] coordinates {(0.000,0.115) (0.005,0.220) (0.010,0.330) (0.015,0.430) (0.020,0.480) (0.025,0.485) (0.030,0.420) (0.035,0.300) (0.040,0.180) (0.045,0.085) (0.050,0.035) (0.055,0.045) (0.060,0.038) (0.065,0.012) (0.070,0.004) (0.100,0.000) (0.200,0.001) (0.300,0.000) (0.400,0.003) (0.440,0.006) (0.460,0.014) (0.470,0.040) (0.475,0.090) (0.480,0.200) (0.485,0.400) (0.490,0.680) (0.495,0.930) (0.499,1.000) (0.503,0.930) (0.507,0.750) (0.511,0.520) (0.514,0.390) (0.517,0.330) (0.520,0.410) (0.523,0.475) (0.526,0.440) (0.530,0.280) (0.535,0.120) (0.540,0.040) (0.545,0.012) (0.550,0.004) (0.600,0.000) (0.700,0.000) (0.800,0.001) (0.900,0.000) (0.980,0.002) (0.985,0.005) (0.990,0.020) (0.995,0.055) (1.000,0.115)};
\addplot[prof, darkorange] coordinates {(0.000,0.118) (0.005,0.222) (0.010,0.332) (0.015,0.430) (0.020,0.480) (0.025,0.485) (0.030,0.422) (0.035,0.302) (0.040,0.182) (0.045,0.088) (0.050,0.038) (0.055,0.047) (0.060,0.040) (0.065,0.014) (0.070,0.005) (0.100,0.001) (0.200,0.001) (0.300,0.001) (0.400,0.003) (0.440,0.006) (0.460,0.015) (0.470,0.042) (0.475,0.092) (0.480,0.202) (0.485,0.400) (0.490,0.680) (0.495,0.930) (0.499,0.995) (0.503,0.930) (0.507,0.750) (0.511,0.520) (0.514,0.400) (0.517,0.360) (0.520,0.420) (0.523,0.480) (0.526,0.440) (0.530,0.285) (0.535,0.125) (0.540,0.043) (0.545,0.014) (0.550,0.005) (0.600,0.001) (0.700,0.001) (0.800,0.002) (0.900,0.001) (0.980,0.002) (0.985,0.006) (0.990,0.021) (0.995,0.056) (1.000,0.117)};
\addplot[prof, seagreen] coordinates {(0.000,0.115) (0.005,0.220) (0.010,0.330) (0.015,0.430) (0.020,0.480) (0.025,0.485) (0.030,0.420) (0.035,0.300) (0.040,0.180) (0.045,0.085) (0.050,0.035) (0.055,0.045) (0.060,0.038) (0.065,0.012) (0.070,0.004) (0.080,0.001) (0.100,0.000) (0.120,0.001) (0.140,-0.001) (0.160,0.001) (0.180,0.000) (0.200,0.002) (0.220,0.000) (0.240,-0.001) (0.260,0.001) (0.280,0.002) (0.300,0.000) (0.320,0.001) (0.340,0.002) (0.360,0.001) (0.380,0.002) (0.400,0.003) (0.420,0.004) (0.440,0.006) (0.450,0.008) (0.460,0.014) (0.470,0.040) (0.475,0.090) (0.480,0.200) (0.485,0.400) (0.490,0.680) (0.495,0.930) (0.499,1.000) (0.503,0.930) (0.507,0.750) (0.511,0.520) (0.514,0.400) (0.517,0.355) (0.520,0.420) (0.523,0.480) (0.526,0.440) (0.530,0.280) (0.535,0.120) (0.540,0.040) (0.545,0.012) (0.550,0.004) (0.570,0.001) (0.600,0.000) (0.640,0.001) (0.680,-0.001) (0.720,0.001) (0.760,0.000) (0.800,0.002) (0.820,0.001) (0.840,0.000) (0.880,0.001) (0.920,-0.001) (0.960,0.001) (0.980,0.002) (0.985,0.005) (0.990,0.020) (0.995,0.055) (1.000,0.115)};
\node[anchor=west, inner sep=0pt, font=\mplbold] at (rel axis cs:0.0557,0.901) {<1500 MHz};
\end{axis}

\begin{axis}[res2, at={(508pt,-591pt)}, anchor=south west, width=305pt, yticklabels={}]
\addplot[resid, darkorange] coordinates {(0.000,0.002) (0.010,0.008) (0.020,0.011) (0.030,0.009) (0.040,0.004) (0.050,0.001) (0.060,0.000) (0.100,0.000) (0.200,0.001) (0.300,0.000) (0.400,0.001) (0.480,0.000) (0.500,0.002) (0.509,0.007) (0.513,0.017) (0.517,0.026) (0.520,0.015) (0.523,-0.006) (0.526,-0.014) (0.529,-0.007) (0.533,0.001) (0.540,0.000) (0.600,0.000) (0.700,0.001) (0.800,0.000) (0.900,0.001) (0.990,0.002) (1.000,0.007)};
\addplot[resid, seagreen] coordinates {(0.000,0.001) (0.005,0.004) (0.010,0.006) (0.015,0.008) (0.020,0.009) (0.025,0.008) (0.030,0.007) (0.035,0.005) (0.040,0.003) (0.045,0.002) (0.050,0.000) (0.055,0.002) (0.060,-0.001) (0.065,0.001)
(0.070,-0.003) (0.075,0.003) (0.080,-0.001) (0.085,0.004) (0.090,-0.003) (0.095,0.001) (0.100,-0.004) (0.105,0.002) (0.110,-0.001) (0.115,0.003) (0.120,-0.003) (0.125,0.000) (0.130,0.004) (0.135,-0.002) (0.140,0.002) (0.145,-0.004) (0.150,0.001) (0.155,-0.002) (0.160,0.003) (0.165,-0.001) (0.170,0.004) (0.175,-0.003) (0.180,0.000) (0.185,0.002) (0.190,-0.004) (0.195,0.003) (0.200,-0.001) (0.205,0.002) (0.210,-0.003) (0.215,0.004) (0.220,-0.002) (0.225,0.001) (0.230,-0.004) (0.235,0.002) (0.240,0.000) (0.245,0.003) (0.250,-0.003) (0.255,0.001) (0.260,-0.002) (0.265,0.004) (0.270,-0.001) (0.275,0.002) (0.280,-0.004) (0.285,0.003) (0.290,-0.002) (0.295,0.000) (0.300,0.003) (0.305,-0.003) (0.310,0.002) (0.315,-0.001) (0.320,0.004) (0.325,-0.003) (0.330,0.001) (0.335,0.005) (0.340,-0.002) (0.345,0.002) (0.350,-0.004) (0.355,0.003) (0.360,-0.001) (0.365,0.002) (0.370,-0.003) (0.375,0.004) (0.380,-0.002) (0.385,0.000) (0.390,0.003) (0.395,-0.004) (0.400,0.002) (0.405,-0.001) (0.410,0.003) (0.415,-0.003) (0.420,0.001) (0.425,0.004) (0.430,-0.002) (0.435,0.002) (0.440,-0.003) (0.445,0.003) (0.450,-0.001) (0.455,0.002) (0.460,-0.004) (0.465,0.003) (0.470,-0.002) (0.475,0.004) (0.480,-0.001) (0.485,0.002)
(0.490,0.004) (0.495,-0.003) (0.500,0.003) (0.505,-0.002) (0.509,0.006) (0.513,0.016) (0.517,0.024) (0.520,0.014) (0.523,-0.004) (0.526,-0.011) (0.529,-0.006) (0.533,0.002) (0.537,-0.002)
(0.540,0.003) (0.545,-0.002) (0.550,0.002) (0.555,-0.004) (0.560,0.003) (0.565,-0.001) (0.570,0.002) (0.575,-0.003) (0.580,0.004) (0.585,-0.002) (0.590,0.001) (0.595,-0.004) (0.600,0.002) (0.605,0.000) (0.610,0.003) (0.615,-0.003) (0.620,0.001) (0.625,-0.002) (0.630,0.004) (0.635,-0.001) (0.640,0.002) (0.645,-0.004) (0.650,0.003) (0.655,-0.002) (0.660,0.000) (0.665,0.003) (0.670,-0.003) (0.675,0.002) (0.680,-0.001) (0.685,0.004) (0.690,-0.003) (0.695,0.001) (0.700,-0.002) (0.705,0.003) (0.710,-0.004) (0.715,0.002) (0.720,0.000) (0.725,0.003) (0.730,-0.002) (0.735,0.001) (0.740,-0.003) (0.745,0.005) (0.750,-0.002) (0.755,0.002) (0.760,-0.004) (0.765,0.003) (0.770,-0.001) (0.775,0.002) (0.780,-0.003) (0.785,0.004) (0.790,-0.002) (0.795,0.000) (0.800,0.003) (0.805,-0.003) (0.810,0.002) (0.815,-0.001) (0.820,0.003) (0.825,-0.004) (0.830,0.001) (0.835,0.003) (0.840,-0.002) (0.845,0.002) (0.850,-0.003) (0.855,0.004) (0.860,-0.001) (0.865,0.002) (0.870,-0.004) (0.875,0.003) (0.880,-0.002) (0.885,0.000) (0.890,0.003) (0.895,-0.003) (0.900,0.002) (0.905,-0.001) (0.910,0.004) (0.915,-0.003) (0.920,0.001) (0.925,-0.002) (0.930,0.003) (0.935,-0.004) (0.940,0.002) (0.945,0.000) (0.950,0.003) (0.955,-0.002) (0.960,0.002) (0.965,-0.003) (0.970,0.004) (0.975,-0.001) (0.980,0.002) (0.985,-0.003) (0.990,0.003) (0.995,0.004) (1.000,0.007)};
\end{axis}
\end{tikzpicture}
\end{document}
